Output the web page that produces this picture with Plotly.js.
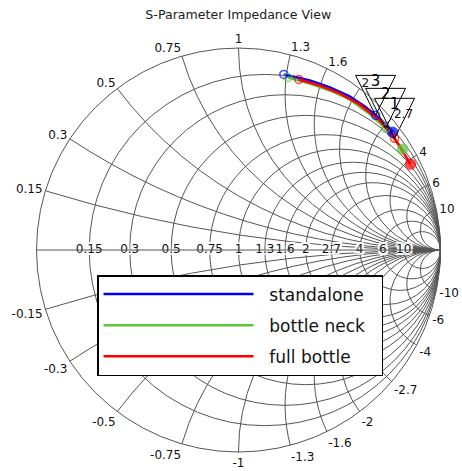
<!DOCTYPE html>
<html>
<head>
<meta charset="utf-8">
<script src="https://cdn.plot.ly/plotly-3.0.1.min.js"></script>
<style>html,body{margin:0;padding:0;background:#fff;}#chart{width:462px;height:471px;}</style>
</head>
<body>
<div id="chart"></div>
<script>
// Normalised impedance (r + jx)
const seriesNames = ["standalone", "bottle neck", "full bottle"];
const standaloneReal = [0.143, 0.152, 0.156, 0.152, 0.161, 0.173, 0.198];
const standaloneImag = [1.281, 1.495, 1.698, 1.949, 2.200, 2.435, 2.944];
const bottleNeckReal = [0.162, 0.178, 0.186, 0.186, 0.213, 0.244, 0.322];
const bottleNeckImag = [1.314, 1.501, 1.709, 1.967, 2.293, 2.759, 3.513];
const fullBottleReal = [0.164, 0.171, 0.174, 0.177, 0.198, 0.271, 0.464];
const fullBottleImag = [1.402, 1.596, 1.824, 2.121, 2.553, 3.094, 4.199];
const tagIndex = [5, 5, 5];
const tagLabels = ["3", "2", "1"];
const realTicks = [0.15, 0.3, 0.5, 0.75, 1, 1.3, 1.6, 2, 2.7, 4, 6, 10];
const realTickText = ["0.15", "0.3", "0.5", "0.75", "1", "1.3", "1.6", "2", "2.7", "4", "6", "10"];
const imagTicks = [-10, -6, -4, -2.7, -2, -1.6, -1.3, -1, -0.75, -0.5, -0.3, -0.15,
                   0.15, 0.3, 0.5, 0.75, 1, 1.3, 1.6, 2, 2.7, 4, 6, 10];
const colors = ["#0000ff", "#5cc63c", "#ff0000"];

const reals = [standaloneReal, bottleNeckReal, fullBottleReal];
const imags = [standaloneImag, bottleNeckImag, fullBottleImag];

const traces = [];
const halo = '1px 0 0 #fff, -1px 0 0 #fff, 0 1px 0 #fff, 0 -1px 0 #fff, 2px 0 0 #fff, -2px 0 0 #fff, 0 2px 0 #fff, 0 -2px 0 #fff, 2px 2px 0 #fff, -2px -2px 0 #fff, 2px -2px 0 #fff, -2px 2px 0 #fff';
traces.push({
  type: 'scattersmith', mode: 'text', showlegend: false,
  real: realTicks, imag: realTicks.map(() => 0),
  text: realTickText, textposition: 'middle center',
  textfont: {family: 'DejaVu Sans', size: 12, color: '#111', shadow: halo}
});
for (let i = 0; i < 3; i++) {
  traces.push({
    type: 'scattersmith', mode: 'lines', name: '\u00a0\u00a0' + seriesNames[i] + '\u00a0\u00a0',
    legendgroup: 'g' + i,
    real: reals[i], imag: imags[i],
    line: {color: colors[i], width: 2.5}
  });
}
for (let i = 0; i < 3; i++) {
  const r = reals[i], x = imags[i], n = r.length, t = tagIndex[i];
  traces.push({
    type: 'scattersmith', mode: 'markers', showlegend: false,
    real: [r[0], r[t], r[n - 1]], imag: [x[0], x[t], x[n - 1]],
    marker: {color: colors[i], size: [8, 8, 10],
      symbol: ['circle-open', 'circle-open-dot', 'circle'],
      line: {color: colors[i], width: 1.5}}
  });
}
traces.push({
  type: 'scattersmith', mode: 'markers+text', showlegend: false,
  real: reals.map((r, i) => r[tagIndex[i]]),
  imag: imags.map((x, i) => x[tagIndex[i]]),
  text: tagLabels, textposition: 'top center',
  textfont: {family: 'DejaVu Sans', size: 15, color: '#000'},
  marker: {symbol: 'arrow-down-open', size: 40, color: '#000', line: {width: 1, color: '#000'}}
});

const axisFont = {family: 'DejaVu Sans', size: 12, color: '#111'};
const layout = {
  width: 462, height: 471,
  margin: {l: 0, r: 0, t: 0, b: 0},
  paper_bgcolor: '#fff',
  title: {text: 'S-Parameter Impedance View', x: 0.516, xanchor: 'center', y: 0.968, yanchor: 'middle',
    font: {family: 'DejaVu Sans', size: 12.6, color: '#222'}},
  smith: {
    domain: {x: [0.0779, 0.9545], y: [0.0403, 0.898]},
    bgcolor: '#fff',
    realaxis: {tickvals: realTicks, showticklabels: false, gridcolor: '#555', gridwidth: 1,
      linecolor: '#555', ticks: '', showline: true},
    imaginaryaxis: {tickvals: imagTicks, tickfont: axisFont, gridcolor: '#555', gridwidth: 1,
      linecolor: '#555', ticks: '', showline: true}
  },
  showlegend: true,
  legend: {x: 0.21, y: 0.416, xanchor: 'left', yanchor: 'top',
    bgcolor: '#fff', bordercolor: '#000', borderwidth: 1.5,
    traceorder: 'grouped', tracegroupgap: 6,
    font: {family: 'DejaVu Sans', size: 17, color: '#111'}, itemwidth: 150}
};
Plotly.newPlot('chart', traces, layout, {displayModeBar: false, staticPlot: true}).then(function (gd) {
  gd.querySelectorAll('text').forEach(function (t) {
    if (t.textContent.trim() === '\u221e') { t.remove(); return; }
    if (t.textContent.indexOf('\u2212') >= 0) t.textContent = t.textContent.replace(/\u2212/g, '-');
  });
});
</script>
</body>
</html>
